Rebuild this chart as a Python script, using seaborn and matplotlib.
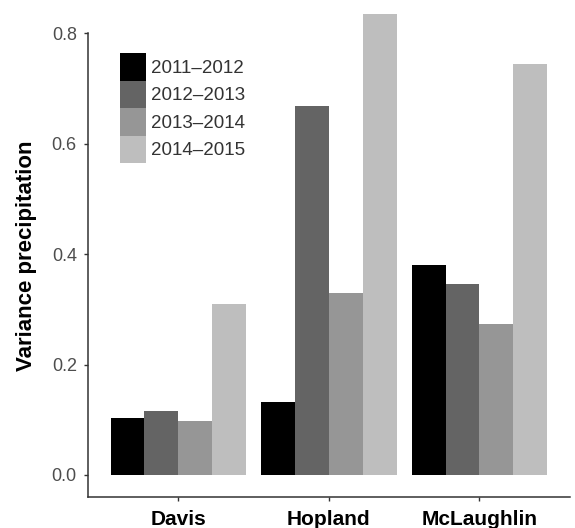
import pandas as pd
import matplotlib
matplotlib.use("Agg")
import matplotlib.pyplot as plt
import seaborn as sns

# ------------------------------------------
# DATA
# ------------------------------------------
sites = ["Davis", "Hopland", "McLaughlin"]
years = ["2011\u20132012", "2012\u20132013", "2013\u20132014", "2014\u20132015"]

var_2011_2012 = [0.103, 0.133, 0.380]
var_2012_2013 = [0.116, 0.668, 0.346]
var_2013_2014 = [0.098, 0.330, 0.273]
var_2014_2015 = [0.310, 0.835, 0.745]

grey_fill = ["#000000", "#646464", "#969696", "#bebebe"]

rows = []
for year, vals in zip(years, [var_2011_2012, var_2012_2013, var_2013_2014, var_2014_2015]):
    for site, v in zip(sites, vals):
        rows.append({"Site": site, "Year": year, "Variance": v})
df = pd.DataFrame(rows)

# ------------------------------------------
# PLOT
# ------------------------------------------
sns.set_style("ticks")
plt.rcParams["font.family"] = ["Liberation Sans", "DejaVu Sans"]

fig = plt.figure(figsize=(5.75, 5.28), dpi=100)
ax = fig.add_axes([0.153, 0.0587, 0.838, 0.9148])

sns.barplot(data=df, x="Site", y="Variance", hue="Year", order=sites,
            hue_order=years, palette=grey_fill, saturation=1, width=0.9,
            gap=0, errorbar=None, linewidth=0, ax=ax)

ax.set_xlim(-0.6, 2.6)
ax.set_ylim(-0.04, 0.835)
ax.set_yticks([0.0, 0.2, 0.4, 0.6, 0.8])
ax.set_yticklabels(["0.0", "0.2", "0.4", "0.6", "0.8"])

for s in ["top", "right"]:
    ax.spines[s].set_visible(False)
ax.spines["left"].set_bounds(-0.04, 0.8)
for s in ["left", "bottom"]:
    ax.spines[s].set_color("#333333")
    ax.spines[s].set_linewidth(1.1)

ax.tick_params(axis="y", length=3, width=1, color="#333333", pad=5,
               labelsize=13, labelcolor="#4d4d4d")
ax.tick_params(axis="x", length=3, width=1, color="#333333", pad=6,
               labelsize=15, labelcolor="black")
for lab in ax.get_xticklabels():
    lab.set_fontweight("bold")

ax.set_xlabel("")
ax.set_ylabel("Variance precipitation", fontsize=16, fontweight="bold", color="black")
ax.yaxis.set_label_coords(-0.105, 0.5)

ax.legend(title=None, loc="upper left", bbox_to_anchor=(0.066, 0.919),
          frameon=False, fontsize=13.5, borderpad=0, labelspacing=0,
          handlelength=1.4, handleheight=1.88, handletextpad=0.25,
          borderaxespad=0, labelcolor="#333333")

plt.savefig("out.png", dpi=100)
